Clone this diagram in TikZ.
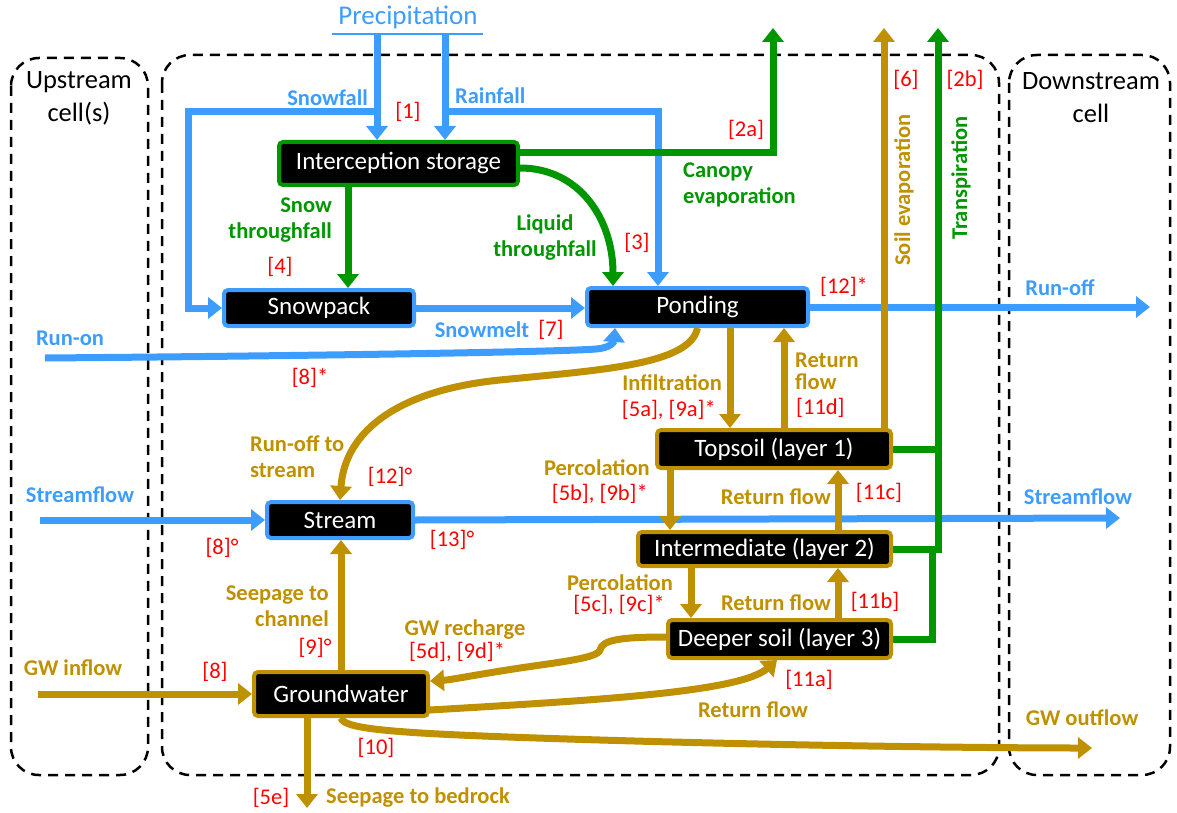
\documentclass[tikz,border=0pt]{standalone}
\usepackage{fontspec}
\setmainfont{Carlito}
\usetikzlibrary{arrows.meta}
\definecolor{wblue}{RGB}{61,157,255}
\definecolor{wgreen}{RGB}{0,150,0}
\definecolor{wgold}{RGB}{191,144,0}
\definecolor{wred}{RGB}{255,0,0}
\tikzset{%
  flow/.style = {line width=7pt,-{Triangle[length=14pt,width=21pt]}},
  pipe/.style = {line width=7pt},
  store/.style = {rectangle,draw,fill=black,text=white,line width=4pt,
        rounded corners=4pt,inner sep=0pt,font=\fontsize{25}{27}\selectfont},
  lab/.style = {inner sep=0pt,font=\bfseries\fontsize{22.5}{26}\selectfont},
  ref/.style = {inner sep=0pt,text=wred,font=\fontsize{22.5}{26}\selectfont},
  cell/.style = {draw,line width=2.5pt,rounded corners=28pt,
        dash pattern=on 10pt off 7pt},
  celltext/.style = {inner sep=0pt,align=center,
        font=\fontsize{26.5}{33}\selectfont}
}

\begin{document}
\begin{tikzpicture}[x=1pt,y=-1pt]
\useasboundingbox (0,0) rectangle (1177,813);

% grid cells
\draw[cell] (11,58) rectangle (148,775);
\draw[cell] (162,55) rectangle (999,775);
\draw[cell] (1009,55) rectangle (1170,775);
\node[celltext] (up) at (79,98) {Upstream\\cell(s)};
\node[celltext] (down) at (1091,98) {Downstream\\cell};

% storages
\node[store,draw=wgreen,minimum width=239pt,minimum height=43pt] (icpt) at (398.5,163.5) {Interception storage};
\node[store,draw=wblue,minimum width=190pt,minimum height=36pt] (snow) at (319,308) {Snowpack};
\node[store,draw=wblue,minimum width=221pt,minimum height=38pt] (pond) at (697.5,307) {Ponding};
\node[store,draw=wblue,minimum width=146pt,minimum height=36pt] (stream) at (340,520) {Stream};
\node[store,draw=wgold,minimum width=234pt,minimum height=38pt] (top) at (774,449) {Topsoil (layer 1)};
\node[store,draw=wgold,minimum width=253pt,minimum height=34pt] (mid) at (764.5,549) {Intermediate (layer 2)};
\node[store,draw=wgold,minimum width=223pt,minimum height=38pt] (deep) at (779.5,639) {Deeper soil (layer 3)};
\node[store,draw=wgold,minimum width=174pt,minimum height=44pt] (gw) at (341,694) {Groundwater};

% free ends
\node[inner sep=0pt,text=wblue,font=\fontsize{27}{30}\selectfont] (prec) at (408,17) {Precipitation};
\coordinate (precl) at (332,34);
\coordinate (precr) at (483,34);
\coordinate (psnow) at (377,34);
\coordinate (prain) at (445,34);
\coordinate (evap) at (773,28);
\coordinate (sevap) at (884,28);
\coordinate (trans) at (938,28);
\coordinate (runon) at (45,358);
\coordinate (runoff) at (1150,307);
\coordinate (sfin) at (40,520);
\coordinate (sfout) at (1120,518);
\coordinate (gwin) at (38,694);
\coordinate (gwout) at (1092,748);
\coordinate (bedrock) at (307,808);

% precipitation
\draw[wblue,line width=1.5pt] (precl) -- (precr);
\draw[flow,wblue] (psnow) -- (icpt.north -| psnow);
\draw[flow,wblue] (prain) -- (icpt.north -| prain);
\draw[flow,wblue] (psnow |- 0,112) -- (188,112) -- (188,308) -- (snow.west);
\draw[flow,wblue] (prain |- 0,112) -- (658,112) -- (pond.north -| 658,0);

% canopy
\draw[flow,wgreen] (icpt.east |- 0,153) -- (773,153) -- (evap);
\draw[flow,wgreen] (icpt.east |- 0,168) .. controls (580,168) and (613,220) .. (pond.north -| 613,0);
\draw[flow,wgreen] (icpt.south -| 348,0) -- (snow.north -| 348,0);

% surface
\draw[flow,wblue] (snow.east) -- (pond.west |- snow.east);
\draw[flow,wblue] (runon) .. controls (300,356) and (560,352) .. (596,349)
    .. controls (610,348) and (614,342) .. (pond.south -| 615,0);
\draw[flow,wblue] (sfin) -- (stream.west);
\draw[flow,wblue] (stream.east) -- (sfout);
\draw[flow,wgold] (pond.south) .. controls (690,365) and (600,370) .. (500,380)
    .. controls (400,390) and (345,430) .. (stream.north);
\draw[flow,wblue] (pond.east) -- (runoff);

% soil column
\draw[flow,wgold] (pond.south -| 730,0) -- (top.north -| 730,0);
\draw[flow,wgold] (top.north -| 784,0) -- (pond.south -| 784,0);
\draw[flow,wgold] (top.north -| 884,0) -- (sevap);
\draw[flow,wgold] (top.south -| 670,0) -- (mid.north -| 670,0);
\draw[flow,wgold] (mid.north -| 838,0) -- (top.south -| 838,0);
\draw[flow,wgold] (mid.south -| 691,0) -- (deep.north -| 691,0);
\draw[flow,wgold] (deep.north -| 838,0) -- (mid.south -| 838,0);
\draw[pipe,wgreen] (top.east) -- (938,449);
\draw[pipe,wgreen] (mid.east) -- (938,549);
\draw[flow,wgreen] (deep.east) -| (932,549) -| (trans);

% groundwater
\draw[flow,wgold] (deep.west |- 0,637) .. controls (620,637) and (602,640) .. (600,650)
    .. controls (598,658) and (560,662) .. (520,668)
    .. controls (480,674) and (450,680) .. (gw.east |- 0,681);
\draw[flow,wgold] (gw.east |- 0,710) .. controls (600,700) and (740,692) .. (deep.south -| 777,0);
\draw[flow,wgold] (gw.south) .. controls (344,730) and (400,734) .. (600,740)
    .. controls (800,746) and (1000,748) .. (gwout);
\draw[flow,wgold] (gw.north) -- (stream.south -| gw.north);
\draw[flow,wgold] (gwin) -- (gw.west);
\draw[flow,wgold] (gw.south -| bedrock) -- (bedrock);

% flow names
\node[lab,text=wblue,anchor=east] (lsnowf) at (368,98) {Snowfall};
\node[lab,text=wblue,anchor=west] (lrainf) at (455,96) {Rainfall};
\node[lab,text=wgreen,anchor=west,align=left] (lcanopy) at (683,185) {Canopy\\evaporation};
\node[lab,text=wgreen,align=center] (lliquid) at (545,238) {Liquid\\throughfall};
\node[lab,text=wgreen,anchor=east,align=right] (lsnowt) at (332,220) {Snow\\throughfall};
\node[lab,text=wblue] (lmelt) at (482,330) {Snowmelt};
\node[lab,text=wblue] (lrunon) at (70,338) {Run-on};
\node[lab,text=wblue] (lrunoff) at (1060,288) {Run-off};
\node[lab,text=wgold,anchor=west,align=left] (lrts) at (250,457) {Run-off to\\stream};
\node[lab,text=wblue] (lsfin) at (80,495) {Streamflow};
\node[lab,text=wblue] (lsfout) at (1078,497) {Streamflow};
\node[lab,text=wgold,anchor=east] (linf) at (722,383) {Infiltration};
\node[lab,text=wgold,anchor=west,align=left,font=\bfseries\fontsize{22.5}{22}\selectfont] (lret4) at (795,371) {Return\\flow};
\node[lab,text=wgold,anchor=east] (lperc1) at (650,468) {Percolation};
\node[lab,text=wgold,anchor=east] (lret3) at (831,497) {Return flow};
\node[lab,text=wgold] (lperc2) at (620,583) {Percolation};
\node[lab,text=wgold] (lret2) at (776,603) {Return flow};
\node[lab,text=wgold] (lrech) at (465,630) {GW recharge};
\node[lab,text=wgold] (lret1) at (753,710) {Return flow};
\node[lab,text=wgold] (lgwout) at (1082,718) {GW outflow};
\node[lab,text=wgold,anchor=east,align=right] (lseep) at (329,606) {Seepage to\\channel};
\node[lab,text=wgold] (lgwin) at (73,668) {GW inflow};
\node[lab,text=wgold,anchor=west] (lbed) at (326,798) {Seepage to bedrock};
\node[lab,text=wgold,rotate=90] (lsevap) at (904,190) {Soil evaporation};
\node[lab,text=wgreen,rotate=90] (ltrans) at (961,178) {Transpiration};

% process numbers
\node[ref] (r1) at (408,112) {[1]};
\node[ref] (r2a) at (746,130) {[2a]};
\node[ref] (r2b) at (965,80) {[2b]};
\node[ref] (r3) at (637,243) {[3]};
\node[ref] (r4) at (280,267) {[4]};
\node[ref] (r6) at (906,80) {[6]};
\node[ref] (r7) at (551,330) {[7]};
\node[ref] (r12s) at (844,287) {[12]*};
\node[ref] (r8s) at (310,378) {[8]*};
\node[ref] (r12o) at (390,477) {[12]°};
\node[ref] (r8o) at (222,548) {[8]°};
\node[ref] (r13o) at (452,540) {[13]°};
\node[ref,anchor=east] (r5a) at (716,410) {[5a], [9a]*};
\node[ref,anchor=west] (r11d) at (796,408) {[11d]};
\node[ref,anchor=east] (r5b) at (648,494) {[5b], [9b]*};
\node[ref] (r11c) at (879,493) {[11c]};
\node[ref] (r5c) at (619,605) {[5c], [9c]*};
\node[ref] (r11b) at (875,602) {[11b]};
\node[ref] (r5d) at (457,652) {[5d], [9d]*};
\node[ref] (r11a) at (809,680) {[11a]};
\node[ref] (r9o) at (315,648) {[9]°};
\node[ref] (r8) at (215,672) {[8]};
\node[ref] (r10) at (376,748) {[10]};
\node[ref] (r5e) at (271,798) {[5e]};
\end{tikzpicture}
\end{document}
